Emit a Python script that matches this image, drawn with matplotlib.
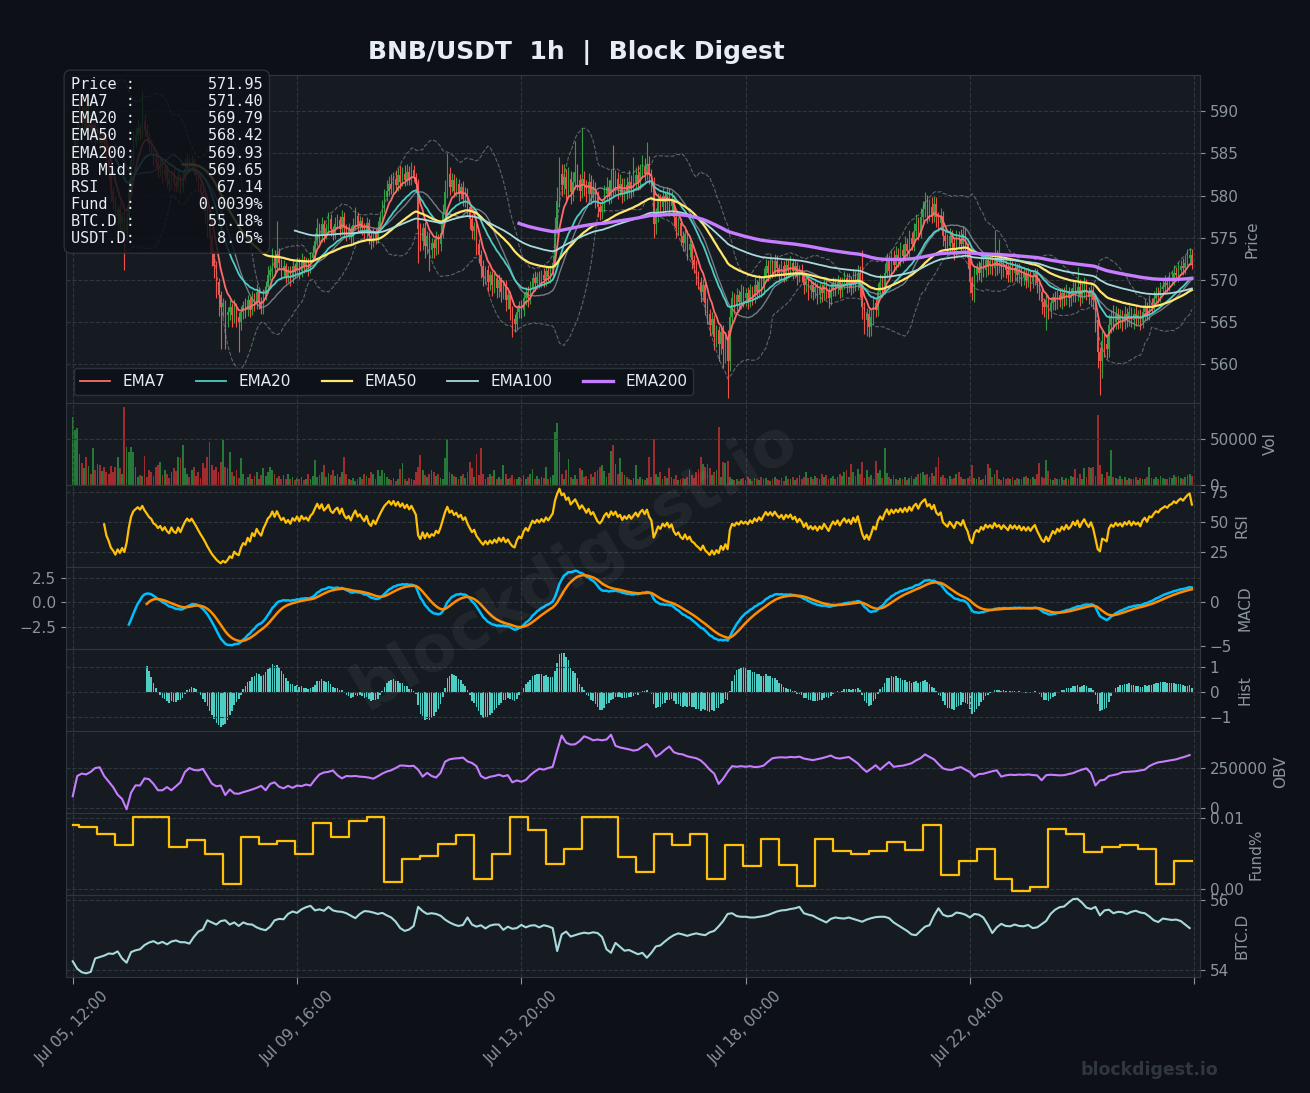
from __future__ import annotations

from datetime import datetime, timedelta

import numpy as np
import pandas as pd
from matplotlib.figure import Figure
from matplotlib.ticker import FuncFormatter

START = datetime(2024, 7, 5, 12, 0)
FIRST_OPEN = 583.8

# hourly closes, Jul 05 12:00 -> Jul 26 07:00
close = [
    585.0, 586.6, 588.2, 589.4, 588.6, 589.8, 588.4, 589.2, 587.6, 588.4,
    586.8, 587.6, 586.2, 587.0, 586.4, 584.2, 582.8, 580.6, 579.4, 577.6,
    578.4, 576.8, 577.6, 575.8, 577.4, 580.8, 584.2, 586.3, 587.2, 588.0,
    587.4, 588.9, 587.8, 587.0, 586.1, 585.6, 584.4, 584.0, 583.1, 583.6,
    582.4, 583.1, 582.0, 581.4, 582.6, 581.5, 581.1, 582.2, 581.0, 582.1,
    583.2, 584.0, 583.4, 584.0, 583.2, 582.4, 581.4, 580.4, 579.4, 578.2,
    576.6, 575.0, 573.2, 571.6, 569.8, 568.2, 566.8, 567.2, 565.8, 566.2,
    566.8, 565.8, 566.8, 565.6, 565.0, 566.2, 567.0, 566.4, 567.6, 566.4,
    568.0, 567.1, 568.6, 567.4, 566.6, 568.1, 569.2, 570.6, 571.2, 572.6,
    571.4, 573.1, 572.0, 571.0, 571.6, 570.4, 571.1, 570.2, 571.6, 571.0,
    572.1, 571.0, 572.4, 571.6, 572.1, 571.4, 572.6, 573.2, 574.6, 576.1,
    575.2, 576.6, 575.4, 576.1, 577.2, 576.0, 575.6, 576.6, 577.1, 576.0,
    577.4, 576.1, 575.4, 576.0, 575.1, 576.5, 577.6, 576.4, 577.0, 576.2,
    575.6, 576.8, 575.2, 574.6, 575.8, 575.0, 576.2, 577.4, 578.6, 579.8,
    580.6, 581.4, 580.8, 582.0, 581.2, 582.4, 581.6, 582.6, 581.8, 582.8,
    582.0, 583.0, 582.2, 581.4, 576.0, 574.6, 576.2, 574.0, 575.2, 573.6,
    574.4, 573.8, 575.0, 574.2, 575.6, 577.8, 580.4, 582.6, 581.0, 581.8,
    580.6, 581.4, 580.2, 581.0, 579.6, 580.4, 578.6, 577.2, 575.8, 576.4,
    574.2, 573.0, 571.6, 570.4, 571.2, 569.8, 570.6, 569.4, 570.2, 569.0,
    570.0, 568.6, 569.4, 567.6, 568.2, 566.6, 565.4, 564.8, 566.2, 567.0,
    566.4, 567.8, 568.6, 567.8, 569.0, 570.2, 569.6, 570.4, 569.8, 570.6,
    570.0, 571.0, 570.4, 571.2, 572.0, 576.0, 579.4, 582.6, 581.2, 582.2,
    580.8, 582.0, 580.4, 581.6, 582.8, 581.8, 580.6, 582.0, 581.2, 580.2,
    581.6, 580.2, 581.0, 579.8, 578.6, 578.0, 578.8, 580.2, 581.0, 580.0,
    581.8, 581.0, 582.0, 580.8, 581.4, 580.2, 581.2, 580.6, 581.6, 580.8,
    581.6, 582.4, 581.6, 582.8, 583.4, 582.6, 583.8, 582.4, 581.6, 576.6,
    577.8, 579.4, 578.6, 580.0, 579.2, 580.2, 578.8, 579.6, 577.4, 576.2,
    576.8, 575.2, 574.4, 575.4, 573.6, 574.2, 572.4, 571.8, 570.6, 569.8,
    568.6, 569.4, 567.2, 566.0, 564.6, 565.4, 563.2, 564.0, 562.4, 563.8,
    561.8, 563.0, 560.4, 565.6, 567.8, 567.0, 568.2, 567.4, 568.6, 567.8,
    568.4, 567.6, 568.8, 568.0, 569.4, 568.6, 569.8, 569.0, 570.4, 571.6,
    570.8, 571.8, 571.0, 572.2, 571.4, 570.8, 571.6, 570.6, 571.8, 571.2,
    572.0, 571.0, 571.6, 570.4, 571.2, 570.6, 569.4, 570.2, 568.8, 569.4,
    568.6, 569.2, 568.2, 569.0, 568.4, 569.4, 568.6, 567.8, 568.8, 569.6,
    569.0, 569.8, 568.8, 569.6, 570.2, 569.4, 570.0, 569.2, 570.4, 569.6,
    570.8, 569.0, 566.8, 565.2, 566.0, 564.4, 565.6, 567.2, 566.4, 568.6,
    569.8, 569.0, 570.8, 572.2, 571.0, 572.6, 571.8, 573.0, 572.4, 573.6,
    572.8, 574.2, 573.4, 575.0, 574.2, 575.8, 576.6, 575.6, 577.4, 578.4,
    579.2, 577.8, 578.6, 577.6, 579.0, 577.4, 576.8, 577.6, 575.2, 574.6,
    574.0, 575.2, 574.4, 573.6, 575.0, 574.8, 574.2, 575.4, 573.8, 572.6,
    569.8, 568.4, 570.6, 571.4, 570.8, 572.0, 571.2, 572.4, 571.6, 572.2,
    571.4, 572.6, 571.6, 572.0, 571.0, 571.8, 571.2, 570.6, 571.6, 570.8,
    571.4, 570.6, 571.2, 570.2, 570.8, 570.0, 570.6, 569.8, 570.4, 570.8,
    569.6, 568.6, 567.4, 566.8, 567.6, 566.4, 567.2, 568.0, 567.4, 568.2,
    567.6, 568.4, 567.8, 568.6, 567.8, 568.2, 569.0, 568.4, 569.2, 568.0,
    568.8, 569.4, 568.6, 568.0, 568.8, 567.6, 565.2, 561.4, 560.4, 562.8,
    562.4, 561.8, 564.6, 565.6, 565.0, 566.0, 565.2, 565.8, 565.0, 566.0,
    565.4, 566.2, 565.2, 566.0, 565.4, 565.8, 565.0, 566.2, 566.8, 566.0,
    567.2, 567.0, 567.8, 568.4, 568.2, 568.9, 569.2, 569.6, 569.4, 570.0,
    570.2, 570.8, 570.6, 571.2, 571.6, 571.4, 572.0, 572.6, 573.0, 571.95,
]

# upper / lower wick lengths, tenths of a dollar
wick_hi_tenths = [
    8, 12, 10, 18, 22, 9, 15, 20, 7, 12, 6, 9, 5, 8, 6, 4, 5, 7, 4, 6,
    5, 8, 4, 6, 7, 12, 10, 14, 9, 11, 6, 35, 8, 7, 5, 6, 4, 7, 5, 8,
    4, 6, 5, 7, 4, 6, 5, 8, 4, 9, 12, 10, 6, 8, 5, 4, 6, 3, 5, 4,
    6, 4, 5, 3, 6, 4, 5, 7, 4, 6, 8, 5, 9, 4, 6, 7, 5, 8, 6, 4,
    7, 5, 9, 4, 6, 8, 7, 10, 6, 12, 9, 39, 7, 5, 8, 4, 6, 5, 7, 4,
    6, 5, 8, 4, 6, 5, 7, 9, 10, 12, 6, 8, 5, 7, 9, 6, 4, 8, 7, 5,
    9, 6, 5, 7, 4, 8, 10, 5, 6, 4, 5, 7, 4, 6, 5, 4, 8, 7, 9, 10,
    12, 9, 11, 8, 10, 9, 12, 8, 10, 9, 7, 10, 6, 5, 6, 8, 5, 7, 6, 5,
    6, 5, 8, 4, 10, 12, 14, 24, 8, 9, 7, 8, 6, 5, 7, 6, 5, 4, 6, 5,
    4, 6, 5, 7, 4, 6, 5, 4, 6, 5, 7, 4, 5, 6, 4, 5, 3, 6, 7, 5,
    6, 8, 5, 7, 9, 6, 8, 5, 7, 6, 8, 5, 7, 6, 9, 14, 16, 20, 12, 15,
    10, 14, 9, 12, 37, 10, 8, 60, 9, 7, 11, 8, 10, 6, 7, 5, 8, 10, 12, 9,
    14, 42, 10, 8, 12, 7, 9, 10, 14, 8, 30, 10, 12, 9, 14, 10, 25, 9, 8, 6,
    7, 9, 8, 10, 6, 8, 7, 9, 5, 6, 7, 5, 6, 8, 5, 6, 4, 5, 6, 4,
    5, 7, 4, 6, 5, 8, 4, 6, 5, 7, 8, 6, 10, 12, 9, 7, 8, 6, 9, 7,
    6, 8, 7, 5, 9, 6, 8, 7, 10, 9, 7, 8, 6, 9, 7, 5, 8, 6, 7, 5,
    8, 6, 7, 5, 6, 7, 5, 6, 4, 6, 5, 7, 4, 6, 5, 7, 6, 5, 8, 7,
    6, 8, 5, 7, 9, 6, 8, 5, 9, 7, 10, 8, 45, 6, 7, 5, 8, 9, 7, 10,
    9, 8, 12, 10, 8, 11, 9, 10, 8, 9, 7, 10, 8, 9, 7, 10, 12, 9, 11, 10,
    12, 9, 10, 12, 10, 8, 7, 9, 6, 7, 8, 10, 7, 6, 9, 8, 12, 10, 7, 6,
    8, 7, 9, 6, 8, 10, 7, 9, 8, 7, 10, 33, 9, 28, 7, 8, 6, 7, 9, 6,
    7, 6, 8, 5, 7, 6, 8, 5, 7, 6, 5, 6, 4, 5, 7, 6, 8, 5, 7, 6,
    8, 6, 7, 9, 6, 8, 10, 7, 23, 9, 8, 10, 7, 6, 9, 5, 6, 4, 7, 12,
    9, 10, 14, 8, 14, 9, 7, 8, 6, 9, 7, 8, 6, 7, 9, 6, 8, 7, 9, 6,
    10, 7, 9, 8, 7, 9, 8, 10, 7, 9, 8, 10, 7, 9, 8, 10, 9, 11, 8, 7,
]
wick_lo_tenths = [
    6, 5, 8, 4, 7, 10, 6, 8, 12, 7, 9, 6, 10, 8, 12, 9, 11, 14, 10, 12,
    16, 10, 14, 46, 12, 8, 6, 7, 5, 6, 8, 6, 7, 5, 8, 6, 9, 7, 10, 8,
    9, 7, 10, 8, 6, 9, 7, 5, 8, 6, 5, 7, 6, 5, 8, 7, 9, 10, 12, 14,
    15, 18, 16, 14, 20, 25, 50, 12, 40, 14, 10, 14, 9, 12, 36, 10, 8, 9, 7, 8,
    6, 8, 5, 9, 7, 6, 5, 7, 6, 8, 7, 5, 8, 9, 6, 8, 7, 9, 6, 8,
    7, 9, 6, 8, 7, 9, 6, 5, 7, 6, 8, 7, 9, 6, 5, 8, 9, 7, 6, 8,
    7, 9, 8, 6, 10, 7, 6, 8, 7, 9, 8, 6, 10, 9, 7, 8, 6, 5, 7, 6,
    5, 7, 6, 5, 7, 6, 8, 5, 7, 6, 8, 7, 6, 9, 40, 12, 10, 14, 9, 26,
    10, 12, 9, 11, 8, 6, 5, 7, 9, 6, 8, 7, 9, 6, 8, 10, 9, 12, 10, 11,
    12, 10, 14, 11, 9, 12, 10, 13, 9, 11, 10, 12, 9, 13, 10, 14, 22, 10, 8, 7,
    9, 7, 8, 10, 7, 6, 9, 7, 8, 6, 8, 7, 6, 8, 7, 5, 6, 8, 12, 10,
    12, 9, 14, 10, 8, 11, 13, 9, 12, 10, 9, 12, 10, 13, 11, 9, 8, 7, 9, 10,
    9, 10, 8, 12, 9, 11, 8, 10, 9, 11, 8, 7, 9, 8, 7, 9, 8, 10, 12, 16,
    12, 9, 11, 8, 10, 9, 12, 8, 10, 12, 9, 11, 10, 8, 12, 9, 11, 10, 12, 9,
    12, 10, 14, 12, 13, 10, 15, 12, 20, 12, 22, 16, 44, 12, 8, 10, 7, 9, 8, 10,
    9, 11, 8, 10, 7, 9, 8, 10, 7, 6, 9, 7, 8, 6, 9, 10, 8, 9, 7, 8,
    7, 9, 8, 10, 7, 9, 11, 8, 12, 9, 10, 8, 11, 9, 10, 8, 9, 11, 8, 7,
    9, 7, 10, 8, 7, 9, 8, 10, 7, 9, 8, 10, 14, 16, 18, 12, 10, 9, 8, 7,
    8, 10, 7, 6, 9, 7, 8, 6, 9, 7, 8, 6, 7, 9, 6, 8, 7, 9, 6, 8,
    9, 10, 8, 9, 7, 11, 10, 9, 12, 10, 11, 9, 10, 12, 9, 10, 8, 9, 11, 12,
    14, 8, 10, 9, 8, 10, 9, 8, 10, 9, 8, 9, 10, 8, 9, 7, 10, 9, 8, 10,
    9, 8, 10, 9, 8, 10, 9, 11, 8, 10, 12, 10, 14, 12, 28, 10, 9, 8, 10, 9,
    8, 10, 9, 8, 10, 9, 8, 10, 9, 11, 8, 9, 10, 9, 11, 10, 14, 18, 41, 20,
    16, 12, 10, 9, 11, 8, 10, 9, 11, 8, 10, 9, 8, 10, 9, 8, 10, 7, 9, 8,
    7, 9, 8, 7, 9, 8, 7, 9, 8, 7, 6, 8, 7, 9, 6, 8, 7, 6, 8, 7,
]

# hourly volume, thousands
volume_k = [
    74, 60, 62, 34, 24, 18, 30, 21, 12, 40, 16, 23, 22, 15, 20, 14, 12, 21, 14, 20,
    31, 18, 12, 85, 41, 36, 41, 36, 20, 9, 11, 10, 32, 9, 16, 14, 10, 20, 22, 25,
    11, 16, 12, 8, 14, 18, 15, 30, 29, 43, 18, 12, 9, 16, 20, 10, 14, 8, 24, 18,
    30, 47, 22, 16, 20, 14, 25, 49, 20, 18, 36, 14, 10, 16, 8, 29, 12, 6, 9, 12,
    7, 10, 14, 6, 11, 18, 10, 14, 20, 16, 12, 8, 10, 6, 11, 7, 12, 6, 9, 5,
    8, 6, 9, 5, 7, 12, 6, 10, 27, 9, 11, 14, 22, 9, 13, 11, 16, 10, 12, 9,
    14, 31, 12, 6, 5, 8, 4, 7, 9, 6, 12, 10, 8, 14, 12, 7, 16, 10, 16, 13,
    9, 6, 5, 8, 4, 6, 17, 24, 7, 4, 8, 6, 5, 14, 20, 33, 16, 11, 9, 12,
    16, 14, 10, 12, 8, 7, 29, 50, 14, 12, 10, 9, 7, 10, 12, 8, 14, 25, 18, 9,
    34, 11, 40, 12, 7, 9, 12, 10, 16, 7, 9, 6, 22, 12, 6, 8, 11, 7, 6, 9,
    8, 11, 6, 9, 12, 17, 7, 10, 6, 9, 8, 20, 7, 9, 11, 58, 67, 36, 12, 7,
    16, 28, 9, 7, 11, 6, 18, 16, 9, 10, 7, 12, 9, 14, 16, 20, 22, 15, 9, 13,
    37, 43, 23, 12, 29, 14, 11, 9, 7, 5, 8, 22, 6, 9, 7, 5, 8, 31, 9, 50,
    12, 9, 14, 7, 10, 8, 18, 9, 7, 11, 5, 6, 8, 7, 9, 16, 11, 8, 14, 17,
    30, 23, 20, 23, 18, 11, 14, 16, 63, 9, 25, 24, 26, 9, 6, 5, 7, 4, 6, 8,
    5, 9, 6, 4, 8, 7, 5, 9, 6, 8, 5, 4, 7, 9, 6, 5, 8, 4, 10, 7,
    6, 9, 5, 8, 11, 7, 9, 14, 8, 9, 6, 10, 8, 7, 12, 9, 11, 6, 8, 10,
    7, 9, 12, 10, 14, 16, 9, 23, 14, 10, 17, 12, 25, 8, 16, 9, 11, 7, 26, 13,
    16, 8, 40, 13, 9, 7, 11, 6, 5, 8, 7, 9, 5, 8, 10, 6, 9, 12, 13, 14,
    11, 12, 9, 13, 10, 20, 31, 9, 11, 8, 7, 10, 6, 8, 12, 14, 9, 7, 6, 8,
    10, 22, 8, 6, 9, 5, 7, 11, 23, 18, 9, 12, 16, 7, 5, 9, 6, 8, 7, 9,
    5, 8, 7, 6, 9, 10, 8, 6, 9, 7, 12, 24, 9, 8, 27, 15, 6, 5, 8, 7,
    6, 9, 5, 8, 7, 10, 9, 17, 8, 12, 6, 18, 9, 20, 19, 20, 10, 76, 22, 12,
    8, 14, 10, 38, 9, 8, 7, 10, 6, 9, 5, 8, 7, 6, 9, 5, 8, 6, 7, 9,
    20, 8, 7, 9, 6, 10, 8, 7, 6, 9, 8, 11, 9, 10, 8, 7, 9, 11, 12, 10,
]

# on-balance volume every 2 hours, thousands
obv_k_2h = [
    72, 200, 215, 210, 226, 250, 255, 200, 165, 130,
    82, 55, -10, 95, 141, 140, 185, 180, 150, 110,
    110, 130, 110, 135, 160, 225, 250, 238, 235, 245,
    200, 152, 135, 140, 80, 115, 90, 88, 98, 106,
    115, 125, 138, 110, 150, 160, 132, 122, 138, 125,
    140, 136, 146, 140, 178, 210, 222, 226, 235, 205,
    185, 200, 198, 200, 196, 194, 190, 183, 198, 215,
    228, 236, 250, 266, 265, 262, 264, 240, 196, 220,
    200, 190, 220, 290, 305, 310, 312, 316, 292, 282,
    262, 200, 184, 195, 200, 208, 198, 205, 160, 172,
    164, 175, 205, 228, 246, 240, 250, 258, 360, 455,
    410, 398, 400, 420, 450, 440, 425, 430, 425, 430,
    460, 390, 380, 374, 368, 360, 365, 385, 402, 370,
    322, 340, 365, 386, 350, 340, 336, 324, 318, 312,
    298, 272, 240, 215, 150, 183, 226, 262, 258, 262,
    258, 262, 256, 258, 265, 290, 312, 316, 318, 316,
    320, 318, 322, 310, 305, 300, 306, 312, 320, 329,
    314, 310, 315, 320, 300, 280, 250, 226, 246, 268,
    240, 265, 288, 258, 262, 265, 272, 280, 298, 312,
    336, 320, 305, 275, 248, 240, 238, 250, 256, 240,
    225, 194, 212, 214, 222, 230, 236, 196, 204, 208,
    206, 209, 207, 210, 206, 204, 173, 205, 208, 206,
    204, 205, 212, 218, 230, 240, 248, 218, 140, 172,
    176, 200, 206, 212, 224, 226, 228, 230, 235, 240,
    262, 276, 286, 290, 295, 300, 305, 314, 322, 332,
]

# BTC dominance every 2 hours, %
btc_dom_2h = [
    54.26, 54.05, 53.95, 53.92, 53.96, 54.34, 54.38, 54.42, 54.48, 54.47,
    54.54, 54.34, 54.22, 54.52, 54.57, 54.60, 54.72, 54.79, 54.83, 54.76,
    54.81, 54.74, 54.82, 54.85, 54.80, 54.80, 54.76, 54.95, 55.10, 55.16,
    55.42, 55.36, 55.30, 55.40, 55.42, 55.30, 55.36, 55.26, 55.36, 55.31,
    55.30, 55.22, 55.17, 55.14, 55.24, 55.42, 55.46, 55.45, 55.60, 55.67,
    55.63, 55.73, 55.79, 55.83, 55.70, 55.73, 55.69, 55.80, 55.70, 55.67,
    55.66, 55.62, 55.55, 55.48, 55.60, 55.68, 55.67, 55.64, 55.60, 55.63,
    55.56, 55.50, 55.38, 55.20, 55.12, 55.16, 55.26, 55.80, 55.68, 55.60,
    55.62, 55.60, 55.55, 55.44, 55.36, 55.30, 55.26, 55.29, 55.50, 55.30,
    55.24, 55.28, 55.19, 55.27, 55.30, 55.30, 55.15, 55.24, 55.18, 55.20,
    55.29, 55.22, 55.27, 55.28, 55.22, 55.28, 55.25, 55.20, 54.55, 55.02,
    55.10, 54.96, 55.00, 55.04, 55.07, 55.05, 55.08, 55.06, 54.95, 54.60,
    54.50, 54.78, 54.67, 54.56, 54.58, 54.52, 54.46, 54.50, 54.36, 54.50,
    54.68, 54.71, 54.82, 54.92, 55.00, 55.05, 55.02, 54.98, 55.02, 55.05,
    55.02, 55.00, 55.08, 55.12, 55.25, 55.40, 55.60, 55.62, 55.54, 55.52,
    55.52, 55.50, 55.50, 55.52, 55.54, 55.57, 55.62, 55.67, 55.70, 55.71,
    55.74, 55.76, 55.80, 55.62, 55.58, 55.55, 55.48, 55.42, 55.36, 55.46,
    55.50, 55.48, 55.47, 55.50, 55.46, 55.42, 55.38, 55.44, 55.48, 55.51,
    55.52, 55.52, 55.48, 55.36, 55.28, 55.20, 55.12, 55.02, 55.00, 55.12,
    55.24, 55.28, 55.55, 55.76, 55.58, 55.53, 55.55, 55.64, 55.62, 55.58,
    55.50, 55.60, 55.58, 55.50, 55.30, 55.06, 55.22, 55.32, 55.26, 55.25,
    55.30, 55.26, 55.25, 55.29, 55.20, 55.22, 55.31, 55.40, 55.60, 55.72,
    55.79, 55.81, 55.92, 56.02, 56.03, 55.92, 55.78, 55.74, 55.80, 55.56,
    55.70, 55.72, 55.62, 55.66, 55.65, 55.60, 55.66, 55.69, 55.64, 55.62,
    55.53, 55.42, 55.37, 55.47, 55.45, 55.43, 55.44, 55.40, 55.30, 55.20,
]

# funding rate per 8h settlement (first block is 4h), %
funding_8h = [
    0.0091, 0.0088, 0.0078, 0.0062, 0.0102, 0.0102, 0.0059, 0.0069, 0.0050, 0.0007,
    0.0073, 0.0063, 0.0068, 0.0050, 0.0093, 0.0074, 0.0096, 0.0102, 0.0010, 0.0042,
    0.0047, 0.0064, 0.0077, 0.0015, 0.0049, 0.0102, 0.0084, 0.0036, 0.0057, 0.0102,
    0.0102, 0.0046, 0.0024, 0.0078, 0.0062, 0.0078, 0.0015, 0.0062, 0.0032, 0.0071,
    0.0034, 0.0004, 0.0070, 0.0054, 0.0050, 0.0054, 0.0067, 0.0055, 0.0091, 0.0020,
    0.0040, 0.0056, 0.0015, -0.0003, 0.0003, 0.0085, 0.0078, 0.0053, 0.0060, 0.0062,
    0.0056, 0.0007, 0.0039,
]

info_labels = ["Price", "EMA7", "EMA20", "EMA50", "EMA200", "BB Mid", "RSI", "Fund", "BTC.D", "USDT.D"]
info_values = ["571.95", "571.40", "569.79", "568.42", "569.93", "569.65", "67.14", "0.0039%", "55.18%", "8.05%"]

EMA_SPANS = [7, 20, 50, 100, 200]
EMA_STYLE = {
    7: ("#ff6b6b", 1.3),
    20: ("#4ecdc4", 1.3),
    50: ("#ffe66d", 1.6),
    100: ("#a8dadc", 1.3),
    200: ("#c77dff", 2.4),
}

BG = "#0d1117"
PANEL = "#161b22"
EDGE = "#30363d"
MUTED = "#8b949e"
TEXT = "#e6edf3"
UP = "#2ea043"
DOWN = "#f0524a"


def build_frame() -> pd.DataFrame:
    c = pd.Series(close, dtype=float)
    o = c.shift(1)
    o.iloc[0] = FIRST_OPEN
    top = np.maximum(o, c)
    bot = np.minimum(o, c)
    frame = pd.DataFrame({
        "open": o,
        "close": c,
        "high": top + np.array(wick_hi_tenths) / 10.0,
        "low": bot - np.array(wick_lo_tenths) / 10.0,
        "volume": np.array(volume_k) * 1000.0,
    })
    for span in EMA_SPANS:
        frame[f"ema{span}"] = c.ewm(span=span, adjust=False, min_periods=span).mean()
    frame["bb_mid"] = c.rolling(20).mean()
    std = c.rolling(20).std()
    frame["bb_up"] = frame["bb_mid"] + 2 * std
    frame["bb_lo"] = frame["bb_mid"] - 2 * std

    delta = c.diff()
    gain = delta.clip(lower=0).ewm(alpha=1 / 14, min_periods=14).mean()
    loss = (-delta.clip(upper=0)).ewm(alpha=1 / 14, min_periods=14).mean()
    frame["rsi"] = 100 - 100 / (1 + gain / loss)

    fast = c.ewm(span=12, adjust=False, min_periods=12).mean()
    slow = c.ewm(span=26, adjust=False, min_periods=26).mean()
    frame["macd"] = fast - slow
    frame["signal"] = frame["macd"].ewm(span=9, adjust=False, min_periods=9).mean()
    frame["hist"] = frame["macd"] - frame["signal"]

    frame["funding"] = np.concatenate([
        np.repeat(funding_8h[:1], 4),
        np.repeat(funding_8h[1:], 8),
    ])[: len(frame)]
    return frame


def style_axis(ax, label: str, right: bool = True) -> None:
    ax.set_facecolor(PANEL)
    for spine in ax.spines.values():
        spine.set_color(EDGE)
    ax.grid(True, linestyle="--", color=EDGE, linewidth=0.8)
    ax.tick_params(colors=MUTED, labelsize=11)
    if right:
        ax.yaxis.tick_right()
        ax.yaxis.set_label_position("right")
        ax.set_ylabel(label, color=MUTED, fontsize=11)


def draw_price(ax, df: pd.DataFrame) -> None:
    x = np.arange(len(df))
    rising = (df["close"] >= df["open"]).to_numpy()
    colors = np.where(rising, UP, DOWN)
    ax.vlines(x, df["low"], df["high"], colors=colors, linewidth=0.8, zorder=2)
    body = np.maximum((df["close"] - df["open"]).abs(), 0.06)
    bottom = np.minimum(df["open"], df["close"])
    ax.bar(x, body, bottom=bottom, width=0.65, color=colors, linewidth=0, zorder=2)

    ax.plot(x, df["bb_up"], color=MUTED, linestyle="--", linewidth=0.8, alpha=0.6, zorder=3)
    ax.plot(x, df["bb_lo"], color=MUTED, linestyle="--", linewidth=0.8, alpha=0.6, zorder=3)
    ax.plot(x, df["bb_mid"], color=MUTED, linewidth=1.0, alpha=0.8, zorder=3)
    for span in EMA_SPANS:
        color, width = EMA_STYLE[span]
        ax.plot(x, df[f"ema{span}"], color=color, linewidth=width, label=f"EMA{span}", zorder=4)

    ax.set_ylim(555.4, 594.3)
    legend = ax.legend(loc="lower left", ncol=5, fontsize=11, facecolor=BG,
                       edgecolor=EDGE, labelcolor=TEXT, framealpha=0.9)
    legend.set_zorder(6)


def main() -> None:
    df = build_frame()
    n = len(df)
    x = np.arange(n)
    x2 = np.arange(0, n, 2)

    fig = Figure(figsize=(13.1, 10.93), dpi=100, facecolor=BG)
    gs = fig.add_gridspec(8, 1, height_ratios=[4, 1, 1, 1, 1, 1, 1, 1],
                          left=0.0504, right=0.916, top=0.9314, bottom=0.1061, hspace=0)
    ax_price = fig.add_subplot(gs[0])
    axes = [ax_price] + [fig.add_subplot(gs[k], sharex=ax_price) for k in range(1, 8)]
    ax_price, ax_vol, ax_rsi, ax_macd, ax_hist, ax_obv, ax_fund, ax_btc = axes

    names = ["Price", "Vol", "RSI", "MACD", "Hist", "OBV", "Fund%", "BTC.D"]
    for ax, name in zip(axes, names):
        style_axis(ax, name, right=(name != "MACD"))

    draw_price(ax_price, df)

    rising = (df["close"] >= df["open"]).to_numpy()
    ax_vol.bar(x, df["volume"], width=0.8, color=np.where(rising, UP, "#da3633"),
               alpha=0.7, linewidth=0)

    ax_rsi.plot(x, df["rsi"], color="#ffc107", linewidth=1.6)

    ax_macd.plot(x, df["macd"], color="#00bfff", linewidth=1.8)
    ax_macd.plot(x, df["signal"], color="#ff8c00", linewidth=1.8)
    sec = ax_macd.secondary_yaxis("right", functions=(lambda v: v / 0.9, lambda v: v * 0.9))
    sec.tick_params(colors=MUTED, labelsize=11)
    sec.spines["right"].set_color(EDGE)
    sec.set_ylabel("MACD", color=MUTED, fontsize=11)

    ax_hist.bar(x, df["hist"], width=0.7, color="#4ecdc4", linewidth=0)

    ax_obv.plot(x2, np.array(obv_k_2h) * 1000.0, color="#c77dff", linewidth=1.5)
    ax_fund.step(x, df["funding"], color="#ffc107", linewidth=1.6)
    ax_btc.plot(x2, btc_dom_2h, color="#a8dadc", linewidth=1.5)

    ax_price.set_xlim(-3, 502.6)

    def fmt(value: float, pos: int) -> str:
        i = int(round(value))
        if i < 0 or i >= n:
            return ""
        return (START + timedelta(hours=i)).strftime("%b %d, %H:%M")

    ax_btc.xaxis.set_major_formatter(FuncFormatter(fmt))
    for ax in axes[:-1]:
        ax.tick_params(axis="x", labelbottom=False, bottom=False)
    ax_btc.tick_params(axis="x", length=5, color=MUTED)
    for label in ax_btc.get_xticklabels():
        label.set_rotation(45)

    info = "\n".join(f"{lab:<6}:{val:>14}" for lab, val in zip(info_labels, info_values))
    fig.text(71 / 1310, 1 - 77 / 1093, info, family="DejaVu Sans Mono", fontsize=11,
             color=TEXT, va="top", ha="left", linespacing=1.18, zorder=10,
             bbox=dict(boxstyle="round,pad=0.45", facecolor=BG, edgecolor=EDGE, alpha=0.85))

    fig.text(0.44, 0.952, "BNB/USDT  1h  |  Block Digest", ha="center", va="center",
             fontsize=18, fontweight="bold", color=TEXT)
    fig.text(0.439, 0.483, "blockdigest.io", ha="center", va="center", rotation=31,
             fontsize=46, fontweight="bold", color="white", alpha=0.055)
    fig.text(1218 / 1310, 1 - 1070 / 1093, "blockdigest.io", ha="right", va="center",
             fontsize=12.5, fontweight="bold", color="#30363d")

    fig.savefig("out.png", dpi=100, facecolor=BG)


if __name__ == "__main__":
    main()
